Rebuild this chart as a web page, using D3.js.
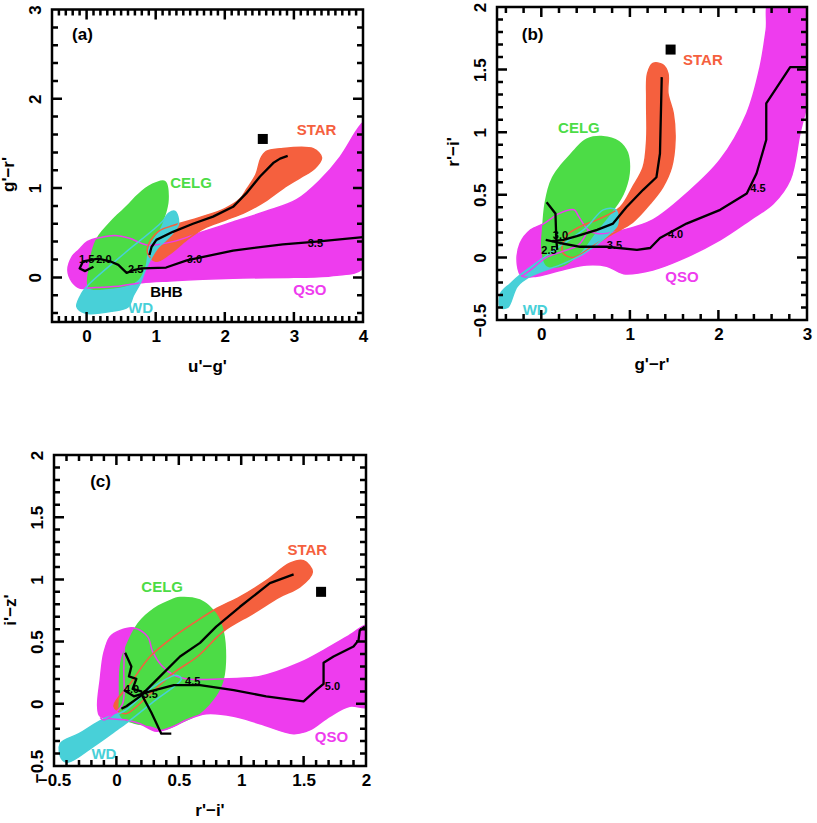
<!DOCTYPE html>
<html>
<head>
<meta charset="utf-8">
<script src="https://cdn.jsdelivr.net/npm/d3@7/dist/d3.min.js"></script>
<style>
body{margin:0;background:#fff;}
text{font-family:"Liberation Sans",Arial,sans-serif;font-weight:bold;}
</style>
</head>
<body>
<script>

// ---- panel (a): u'-g' vs g'-r'
var qsoA=[[-0.27,0.08],[-0.21,0.23],[-0.11,0.31],[0.01,0.4],[0.22,0.45],[0.41,0.47],[0.61,0.44],[0.8,0.38],[0.91,0.36],[1.25,0.4],[1.64,0.5],[2.12,0.62],[2.6,0.74],[3.04,0.87],[3.38,1.09],[3.67,1.35],[3.93,1.67],[4.02,1.74],[4.02,0.12],[3.57,0.02],[3.0,0.0],[2.12,-0.01],[1.2,-0.04],[0.8,-0.06],[0.46,-0.1],[0.22,-0.11],[0.0,-0.12],[-0.1,-0.12],[-0.21,-0.05]];
var starA=[[0.88,0.28],[0.93,0.42],[1.05,0.52],[1.25,0.58],[1.64,0.67],[2.0,0.77],[2.22,0.88],[2.32,0.99],[2.45,1.15],[2.52,1.33],[2.6,1.41],[2.8,1.44],[3.28,1.44],[3.4,1.34],[3.3,1.22],[3.1,1.12],[2.85,1.0],[2.6,0.86],[2.3,0.73],[2.0,0.64],[1.7,0.55],[1.45,0.42],[1.2,0.26],[1.0,0.18]];
var celgA=[[0.95,1.05],[1.14,1.08],[1.19,0.87],[1.08,0.57],[0.9,0.34],[0.85,0.12],[0.75,-0.03],[0.61,-0.09],[0.32,-0.13],[0.03,-0.12],[0.03,0.12],[0.13,0.42],[0.32,0.61],[0.56,0.79],[0.75,0.94]];
var wdA=[[1.28,0.74],[1.33,0.6],[1.22,0.47],[1.02,0.32],[0.86,0.1],[0.78,-0.06],[0.68,-0.2],[0.6,-0.33],[0.37,-0.38],[-0.02,-0.4],[-0.14,-0.33],[-0.07,-0.18],[0.03,-0.08],[0.55,0.27],[1.09,0.62],[1.19,0.72]];
var starTrackA=[[0.91,0.25],[0.94,0.34],[1.01,0.42],[1.25,0.51],[1.54,0.6],[1.83,0.68],[2.12,0.79],[2.31,0.94],[2.51,1.13],[2.7,1.28],[2.8,1.33],[2.91,1.36]];
var qsoTrackA=[[0.1,0.12],[-0.02,0.07],[-0.1,0.1],[-0.05,0.18],[0.17,0.21],[0.34,0.18],[0.46,0.14],[0.58,0.05],[0.68,0.08],[0.8,0.1],[1.15,0.11],[1.45,0.19],[2.12,0.3],[2.84,0.37],[3.33,0.4],[4.0,0.45]];
var zLabelsA=[["1.5",-0.11,0.16],["2.0",0.14,0.16],["2.5",0.6,0.05],["3.0",1.45,0.16],["3.5",3.2,0.34]];
var squareA=[[2.55,1.55]];
var xTicksA=[0,1,2,3,4];
var yTicksA=[0,1,2,3];

// ---- panel (b): g'-r' vs r'-i'
var qsoB=[[-0.27,-0.06],[-0.24,0.11],[-0.12,0.22],[0.03,0.27],[0.2,0.35],[0.37,0.38],[0.42,0.33],[0.53,0.22],[0.63,0.19],[0.93,0.22],[1.26,0.3],[1.64,0.51],[2.02,0.78],[2.32,1.15],[2.47,1.52],[2.54,1.82],[2.58,2.05],[3.05,2.05],[3.02,1.31],[2.92,0.99],[2.81,0.62],[2.62,0.43],[2.36,0.3],[2.02,0.14],[1.57,-0.02],[1.26,-0.1],[0.93,-0.13],[0.74,-0.07],[0.51,-0.06],[0.29,-0.09],[-0.05,-0.15],[-0.22,-0.15]];
var starB=[[0.24,0.04],[0.28,0.17],[0.45,0.25],[0.63,0.3],[0.89,0.4],[1.03,0.56],[1.15,0.72],[1.19,0.94],[1.19,1.26],[1.2,1.47],[1.26,1.55],[1.37,1.54],[1.43,1.47],[1.43,1.31],[1.49,1.15],[1.51,0.94],[1.47,0.72],[1.37,0.56],[1.23,0.43],[1.03,0.28],[0.81,0.19],[0.58,0.09],[0.36,0.0]];
var celgB=[[0.51,0.95],[0.7,0.97],[0.88,0.93],[0.98,0.84],[1.0,0.67],[0.93,0.5],[0.8,0.36],[0.62,0.2],[0.45,0.04],[0.25,-0.07],[0.06,-0.07],[0.0,0.06],[0.01,0.25],[0.04,0.45],[0.12,0.64],[0.33,0.83]];
var wdB=[[-0.46,-0.4],[-0.46,-0.29],[-0.35,-0.21],[-0.22,-0.13],[0.13,0.05],[0.51,0.24],[0.7,0.38],[0.84,0.38],[0.86,0.26],[0.74,0.17],[0.48,0.03],[0.25,-0.05],[-0.12,-0.15],[-0.27,-0.23],[-0.38,-0.4]];
var qsoLineB=[[0.53,0.22],[0.42,0.1],[0.25,0.05],[0.06,0.0],[-0.12,-0.1],[-0.22,-0.15]];
var starTrackB=[[0.12,0.13],[0.25,0.14],[0.4,0.17],[0.63,0.22],[0.81,0.27],[0.96,0.4],[1.15,0.54],[1.3,0.64],[1.34,0.83],[1.36,1.44]];
var qsoTrackB=[[0.05,0.14],[0.21,0.115],[0.44,0.085],[0.74,0.085],[1.08,0.06],[1.23,0.075],[1.34,0.155],[1.64,0.27],[2.02,0.38],[2.32,0.51],[2.43,0.67],[2.54,0.94],[2.54,1.23],[2.81,1.52],[2.99,1.52]];
var bhbTrackB=[[0.06,0.44],[0.16,0.35],[0.17,0.14],[0.18,0.06]];
var zLabelsB=[["2.5",0.0,0.03],["3.0",0.13,0.145],["3.5",0.74,0.07],["4.0",1.43,0.155],["4.5",2.36,0.52]];
var squareB=[[1.46,1.66]];
var xTicksB=[0,1,2,3];
var yTicksB=[-0.5,0,0.5,1,1.5,2];

// ---- panel (c): r'-i' vs i'-z'
var qsoC=[[-0.05,0.54],[0.03,0.59],[0.14,0.61],[0.25,0.54],[0.29,0.42],[0.36,0.31],[0.46,0.23],[0.57,0.2],[0.83,0.2],[1.15,0.22],[1.47,0.33],[1.66,0.43],[1.85,0.54],[2.03,0.63],[2.03,-0.02],[1.87,-0.02],[1.71,-0.1],[1.55,-0.21],[1.42,-0.24],[1.15,-0.16],[0.94,-0.1],[0.72,-0.08],[0.56,-0.13],[0.46,-0.18],[0.32,-0.22],[0.19,-0.16],[0.08,-0.13],[-0.13,-0.1],[-0.15,-0.02],[-0.13,0.19],[-0.1,0.41]];
var starC=[[-0.02,-0.02],[0.11,0.16],[0.27,0.38],[0.46,0.54],[0.62,0.65],[0.81,0.77],[0.99,0.86],[1.2,0.99],[1.39,1.13],[1.5,1.15],[1.57,1.06],[1.47,0.94],[1.31,0.86],[1.1,0.73],[0.88,0.6],[0.81,0.54],[0.65,0.38],[0.46,0.25],[0.27,0.08],[0.07,-0.08]];
var celgC=[[0.44,0.84],[0.51,0.86],[0.67,0.84],[0.8,0.73],[0.86,0.59],[0.88,0.38],[0.86,0.19],[0.8,0.06],[0.67,-0.08],[0.51,-0.16],[0.38,-0.21],[0.27,-0.18],[0.14,-0.16],[0.03,-0.1],[0.02,0.06],[0.03,0.33],[0.08,0.48],[0.17,0.65],[0.3,0.77]];
var wdC=[[-0.45,-0.32],[-0.3,-0.24],[-0.1,-0.12],[0.06,-0.06],[0.27,0.12],[0.48,0.23],[0.52,0.2],[0.3,0.02],[0.1,-0.14],[0.03,-0.19],[-0.18,-0.34],[-0.39,-0.47],[-0.44,-0.44]];
var qsoLineC=[[0.14,0.61],[0.08,0.56],[0.06,0.3],[0.05,0.0],[-0.02,-0.08],[-0.1,-0.13],[-0.13,-0.11]];
var starTrackC=[[0.04,-0.04],[0.08,-0.02],[0.19,0.06],[0.35,0.22],[0.51,0.38],[0.67,0.49],[0.8,0.62],[0.99,0.78],[1.23,0.97],[1.42,1.04]];
var qsoTrackC=[[0.06,0.11],[0.14,0.06],[0.27,0.1],[0.46,0.15],[0.67,0.15],[0.94,0.11],[1.2,0.06],[1.5,0.02],[1.6,0.11],[1.66,0.16],[1.66,0.33],[1.74,0.38],[1.9,0.46],[1.94,0.51],[1.95,0.59],[1.99,0.62]];
var bhbTrackC=[[0.07,0.41],[0.12,0.3],[0.1,0.22],[0.16,0.2],[0.13,0.12],[0.2,0.1],[0.21,0.06],[0.28,-0.07],[0.36,-0.24],[0.44,-0.24]];
var zLabelsC=[["4.0",0.06,0.09],["3.5",0.21,0.05],["4.5",0.55,0.15],["5.0",1.67,0.11]];
var squareC=[[1.64,0.9]];
var xTicksC=[-0.5,0,0.5,1,1.5,2];
var yTicksC=[-0.5,0,0.5,1,1.5,2];

var colors={qso:"#ee3cee", star:"#f5603e", celg:"#4cdc46", wd:"#48d0d8", bhb:"#000"};

var panels=[
  {id:"a", left:52, top:9.5, w:311, h:312.5, xDom:[-0.5,4], yDom:[-0.5,3], xTicks:xTicksA, yTicks:yTicksA, xMinor:0.1, yMinor:0.2,
   qso:qsoA, star:starA, celg:celgA, wd:wdA, extra:[], tracks:[starTrackA,qsoTrackA], zl:zLabelsA, sq:squareA,
   xTitle:"u'\u2212g'", yTitle:"g'\u2212r'", ytY:165, tag:"(a)", tagAt:[-0.21,2.66],
   names:[["STAR",3.04,1.59,"star"],["CELG",1.21,1.0,"celg"],["BHB",0.92,-0.22,"bhb"],["WD",0.6,-0.4,"wd"],["QSO",2.99,-0.2,"qso"]]},
  {id:"b", left:497, top:7, w:310, h:313, xDom:[-0.5,3], yDom:[-0.5,2], xTicks:xTicksB, yTicks:yTicksB, xMinor:0.2, yMinor:0.1,
   qso:qsoB, star:starB, celg:celgB, wd:wdB, extra:[qsoLineB], tracks:[starTrackB,qsoTrackB,bhbTrackB], zl:zLabelsB, sq:squareB,
   xTitle:"g'\u2212r'", yTitle:"r'\u2212i'", ytY:145, tag:"(b)", tagAt:[-0.22,1.74],
   names:[["STAR",1.6,1.54,"star"],["CELG",0.19,0.99,"celg"],["QSO",1.4,-0.2,"qso"],["WD",-0.21,-0.46,"wd"]]},
  {id:"c", left:54, top:455, w:312, h:311, xDom:[-0.5,2], yDom:[-0.5,2], xTicks:xTicksC, yTicks:yTicksC, xMinor:0.1, yMinor:0.1,
   qso:qsoC, star:starC, celg:celgC, wd:wdC, extra:[qsoLineC], tracks:[starTrackC,qsoTrackC,bhbTrackC], zl:zLabelsC, sq:squareC,
   xTitle:"r'\u2212i'", yTitle:"i'\u2212z'", ytY:155, tag:"(c)", tagAt:[-0.21,1.74],
   names:[["STAR",1.37,1.2,"star"],["CELG",0.2,0.9,"celg"],["QSO",1.59,-0.31,"qso"],["WD",-0.2,-0.44,"wd"]]}
];

var svg=d3.select("body").append("svg")
  .attr("width",817)
  .attr("height",823);

function fmt(v){
  return v<0 ? "\u2212"+Math.abs(v) : String(v);
}

function drawPanel(p){
  var x=d3.scaleLinear().domain(p.xDom).range([0,p.w]);
  var y=d3.scaleLinear().domain(p.yDom).range([p.h,0]);

  var g=svg.append("g").attr("transform",`translate(${p.left},${p.top})`);
  g.append("clipPath").attr("id","clip-"+p.id)
    .append("rect").attr("width",p.w).attr("height",p.h);
  var plot=g.append("g").attr("clip-path",`url(#clip-${p.id})`);

  var blob=d3.line().x(d=>x(d[0])).y(d=>y(d[1])).curve(d3.curveCatmullRomClosed.alpha(0.5));
  var smooth=d3.line().x(d=>x(d[0])).y(d=>y(d[1])).curve(d3.curveCatmullRom.alpha(0.5));
  var line=d3.line().x(d=>x(d[0])).y(d=>y(d[1]));

  // filled regions
  [["qso",p.qso],["star",p.star],["wd",p.wd],["celg",p.celg]].forEach(function(r){
    plot.append("path").attr("d",blob(r[1])).attr("fill",colors[r[0]]);
  });
  // outlines over the green
  [["qso",p.qso],["star",p.star],["wd",p.wd]].forEach(function(r){
    plot.append("path").attr("d",blob(r[1]))
      .attr("fill","none").attr("stroke",colors[r[0]]).attr("stroke-width",1.5);
  });
  p.extra.forEach(function(l){
    plot.append("path").attr("d",smooth(l))
      .attr("fill","none").attr("stroke",colors.qso).attr("stroke-width",1.5);
  });

  // model tracks
  p.tracks.forEach(function(t){
    plot.append("path").attr("d",line(t))
      .attr("fill","none").attr("stroke","#000").attr("stroke-width",2.3)
      .attr("stroke-linejoin","round");
  });

  plot.selectAll("text.z").data(p.zl).enter().append("text")
    .attr("class","z")
    .attr("x",d=>x(d[1])).attr("y",d=>y(d[2]))
    .attr("font-size",11).attr("fill","#000")
    .text(d=>d[0]);

  plot.selectAll("rect.sq").data(p.sq).enter().append("rect")
    .attr("class","sq")
    .attr("x",d=>x(d[0])-5).attr("y",d=>y(d[1])-5)
    .attr("width",10).attr("height",10).attr("fill","#000");

  g.selectAll("text.name").data(p.names).enter().append("text")
    .attr("class","name")
    .attr("x",d=>x(d[1])).attr("y",d=>y(d[2]))
    .attr("font-size",15).attr("fill",d=>colors[d[3]])
    .text(d=>d[0]);

  g.append("text")
    .attr("x",x(p.tagAt[0])).attr("y",y(p.tagAt[1]))
    .attr("font-size",17).text(p.tag);

  // tick labels from d3 axes
  function styleAxis(sel){
    sel.select(".domain").remove();
    sel.selectAll(".tick line").remove();
    sel.selectAll(".tick text").attr("font-size",17).attr("fill","#000")
      .attr("font-family","'Liberation Sans',Arial,sans-serif");
  }
  g.append("g").attr("transform",`translate(0,${p.h})`)
    .call(d3.axisBottom(x).tickValues(p.xTicks).tickSize(0).tickPadding(8).tickFormat(fmt))
    .call(styleAxis);
  var yl=g.append("g")
    .call(d3.axisLeft(y).tickValues(p.yTicks).tickSize(0).tickFormat(fmt))
    .call(styleAxis);
  yl.selectAll(".tick text")
    .attr("x",null).attr("dy",null)
    .attr("text-anchor","middle")
    .attr("transform","translate(-11,0) rotate(-90)");

  // frame and inward tick marks in one path
  var xMinorVals=d3.range(Math.round(p.xDom[0]/p.xMinor),Math.round(p.xDom[1]/p.xMinor)+1).map(i=>i*p.xMinor);
  var yMinorVals=d3.range(Math.round(p.yDom[0]/p.yMinor),Math.round(p.yDom[1]/p.yMinor)+1).map(i=>i*p.yMinor);
  var fr=`M0,0H${p.w}V${p.h}H0Z`;
  function xTick(v,len){
    var px=(Math.round(x(v)*10)/10).toFixed(1);
    fr+=`M${px},${p.h}V${p.h-len}M${px},0V${len}`;
  }
  function yTick(v,len){
    var py=(Math.round(y(v)*10)/10).toFixed(1);
    fr+=`M0,${py}H${len}M${p.w},${py}H${p.w-len}`;
  }
  xMinorVals.forEach(v=>xTick(v,6));
  p.xTicks.forEach(v=>xTick(v,10));
  yMinorVals.forEach(v=>yTick(v,6));
  p.yTicks.forEach(v=>yTick(v,10));
  g.append("path")
    .attr("d",fr)
    .attr("fill","none").attr("stroke","#000").attr("stroke-width",2.5);

  g.append("text")
    .attr("x",p.w/2).attr("y",p.h+50)
    .attr("text-anchor","middle").attr("font-size",17)
    .text(p.xTitle);
  g.append("text")
    .attr("transform",`translate(-38,${p.ytY}) rotate(-90)`)
    .attr("text-anchor","middle").attr("font-size",17)
    .text(p.yTitle);
}

panels.forEach(drawPanel);

</script>
</body>
</html>
